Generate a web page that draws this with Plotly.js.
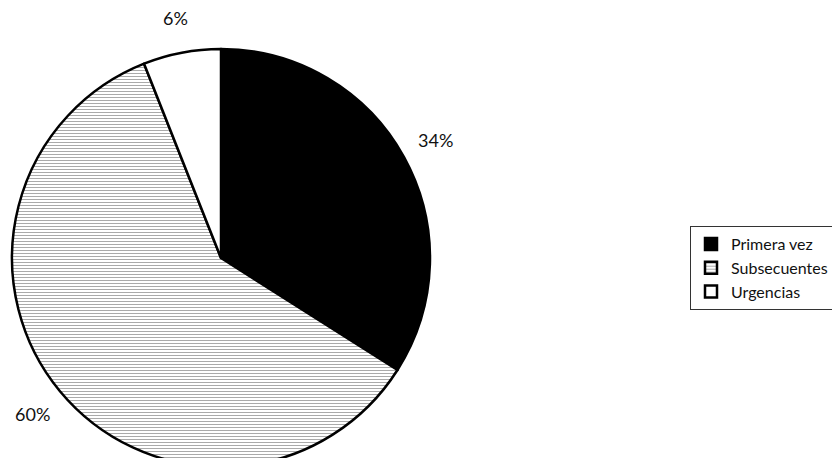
<!DOCTYPE html>
<html><head><meta charset="utf-8">
<script src="https://cdn.plot.ly/plotly-3.0.1.min.js"></script>
<style>html,body{margin:0;padding:0;background:#fff;overflow:hidden}</style>
</head><body>
<div id="chart" style="width:860px;height:480px"></div>
<script>
const categories = ["Primera vez", "Subsecuentes", "Urgencias"];
const values = [34, 60, 6];
const sliceColors = ["#000000", "#e4e4e4", "#ffffff"];

const W = 860, H = 480;
// pie box in pixels (left, top, size)
const PX = 12, PY = 49, PS = 418;
const R = PS / 2, CX = PX + R, CY = PY + R;
const FONT = "Lato, 'Open Sans', sans-serif";

const trace = {
  type: "pie",
  labels: categories,
  values: values,
  sort: false,
  direction: "clockwise",
  rotation: 0,
  textinfo: "none",
  marker: {
    colors: sliceColors,
    line: {color: "#000", width: 2.5},
    pattern: {shape: ["", "-", ""], fgcolor: "#a0a0a0", size: 3, solidity: 0.3}
  },
  domain: {x: [PX / W, (PX + PS) / W], y: [(H - PY - PS) / H, (H - PY) / H]},
  hoverinfo: "label+percent"
};

// percentage labels placed just outside each slice midpoint
const total = values.reduce((a, b) => a + b, 0);
let cum = 0;
const annotations = values.map(v => {
  const mid = (cum + v / 2) / total * 2 * Math.PI;
  cum += v;
  const r = R * 1.17;
  const x = CX + r * Math.sin(mid);
  const y = CY - r * Math.cos(mid);
  return {
    xref: "paper", yref: "paper", x: x / W, y: 1 - y / H,
    xanchor: "center", yanchor: "middle", showarrow: false,
    text: Math.round(v / total * 100) + "%",
    font: {family: FONT, size: 18, color: "#111"}
  };
});

const layout = {
  width: W, height: H,
  margin: {l: 0, r: 0, t: 0, b: 0},
  paper_bgcolor: "#fff",
  showlegend: true,
  annotations: annotations,
  legend: {
    x: 690 / W, y: 1 - 226 / H, xanchor: "left", yanchor: "top",
    bordercolor: "#333", borderwidth: 1,
    font: {family: FONT, size: 16, color: "#111"},
    tracegroupgap: 0, itemwidth: 30
  }
};
Plotly.newPlot("chart", [trace], layout, {displayModeBar: false, staticPlot: true});
</script>
</body></html>
